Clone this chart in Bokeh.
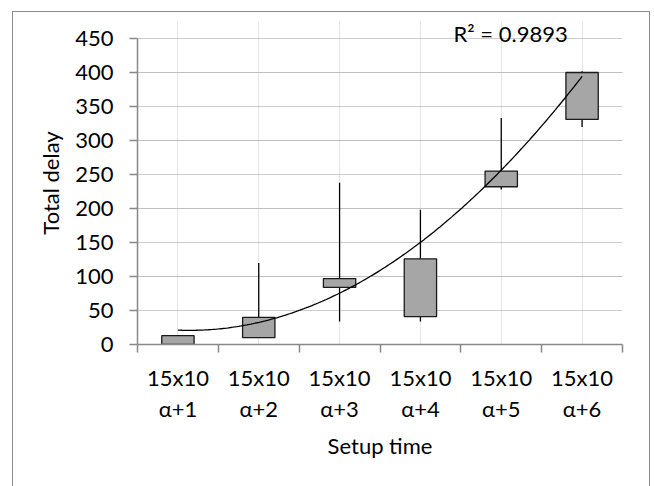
import numpy as np
from bokeh.plotting import figure
from bokeh.models import (FixedTicker, LinearAxis, Label, Range1d, ColumnDataSource, Grid)
from bokeh.embed import file_html
from bokeh.resources import INLINE

# ---- data ----
line1_labels = ["15x10", "15x10", "15x10", "15x10", "15x10", "15x10"]
line2_labels = ["α+1", "α+2", "α+3", "α+4", "α+5", "α+6"]
positions = [1, 2, 3, 4, 5, 6]
box_low = [0, 10, 84, 41, 232, 331]
box_high = [13, 40, 97, 126, 255, 400]
whisker_low = [0, 10, 34, 34, 228, 320]
whisker_high = [13, 120, 238, 198, 333, 402]
trend_read = [21, 32, 77, 150, 255, 395]   # polynomial (order 2) trendline values at each category
y_ticks = [0, 50, 100, 150, 200, 250, 300, 350, 400, 450]
r2_text = "R\u00b2 = 0.9893"

FONT = "Lato"
FS = "22px"
GRAY_AXIS = "#898989"

p = figure(width=636, height=480, output_backend="svg", toolbar_location=None,
           x_range=Range1d(0.5, 6.5), y_range=Range1d(0, 475),
           frame_width=485, frame_height=323,
           min_border_left=124, min_border_right=27, min_border_top=9, min_border_bottom=148,
           x_axis_location=None, y_axis_location=None)
p.outline_line_color = None
p.background_fill_color = "white"
p.border_fill_color = "white"
p.margin = (11, 0, 0, 12)
p.styles = {"border-left": "1px solid #8a8a8a", "border-right": "1px solid #8a8a8a",
            "border-top": "1px solid #8a8a8a"}

# y axis
yax = LinearAxis(ticker=FixedTicker(ticks=y_ticks), bounds=(y_ticks[0], y_ticks[-1]))
yax.axis_line_color = GRAY_AXIS
yax.axis_line_width = 1.5
yax.major_tick_line_color = GRAY_AXIS
yax.major_tick_line_width = 1.5
yax.major_tick_out = 8
yax.major_tick_in = 0
yax.minor_tick_line_color = None
yax.major_label_text_font = FONT
yax.major_label_text_font_size = FS
yax.major_label_text_color = "black"
yax.major_label_standoff = 16
yax.axis_label = "Total delay"
yax.axis_label_text_font = FONT
yax.axis_label_text_font_size = FS
yax.axis_label_text_font_style = "normal"
yax.axis_label_text_color = "black"
yax.axis_label_standoff = 8
p.add_layout(yax, "left")

# x axis (line 1 + ticks at category boundaries)
boundaries = [0.5 + i for i in range(7)]
xax1 = LinearAxis(ticker=FixedTicker(ticks=positions, minor_ticks=boundaries))
xax1.axis_line_color = GRAY_AXIS
xax1.axis_line_width = 1.5
xax1.major_tick_line_color = None
xax1.major_tick_out = 0
xax1.major_tick_in = 0
xax1.minor_tick_line_color = GRAY_AXIS
xax1.minor_tick_line_width = 1.5
xax1.minor_tick_out = 8
xax1.minor_tick_in = 0
xax1.major_label_overrides = {pos: lab for pos, lab in zip(positions, line1_labels)}
xax1.major_label_text_font = FONT
xax1.major_label_text_font_size = FS
xax1.major_label_text_color = "black"
xax1.major_label_standoff = 11
p.add_layout(xax1, "below")

xax2 = LinearAxis(ticker=FixedTicker(ticks=positions, minor_ticks=[]))
xax2.axis_line_color = None
xax2.major_tick_line_color = None
xax2.minor_tick_line_color = None
xax2.major_tick_out = 0
xax2.major_tick_in = 0
xax2.major_label_overrides = {pos: lab for pos, lab in zip(positions, line2_labels)}
xax2.major_label_text_font = FONT
xax2.major_label_text_font_size = FS
xax2.major_label_text_color = "black"
xax2.major_label_standoff = 1
xax2.axis_label = "Setup time"
xax2.axis_label_text_font = FONT
xax2.axis_label_text_font_size = FS
xax2.axis_label_text_font_style = "normal"
xax2.axis_label_text_color = "black"
xax2.axis_label_standoff = 7
p.add_layout(xax2, "below")

# horizontal dotted gridlines
g = Grid(dimension=1, ticker=FixedTicker(ticks=y_ticks[1:]))
g.grid_line_color = "#9a9a9a"
g.grid_line_dash = "1 1"
g.grid_line_width = 1
p.add_layout(g)

# whiskers and boxes
src = ColumnDataSource(dict(x=positions, bl=box_low, bh=box_high, wl=whisker_low, wh=whisker_high))
p.segment(x0="x", y0="wl", x1="x", y1="wh", source=src, line_color="black", line_width=1.3)
p.vbar(x="x", bottom="bl", top="bh", width=0.4, source=src,
       fill_color="#a6a6a6", line_color="#1a1a1a", line_width=1.3)

# trendline (order-2 polynomial through the read trend values)
coef = np.polyfit(positions, trend_read, 2)
xs = np.linspace(positions[0], positions[-1], 200)
p.line(xs, np.polyval(coef, xs), line_color="black", line_width=1.3)

p.add_layout(Label(x=4.41, y=457, text=r2_text, text_font=FONT, text_font_size=FS,
                   text_color="black", text_baseline="middle", text_align="left"))

open("out.html", "w").write(file_html(p, INLINE))
